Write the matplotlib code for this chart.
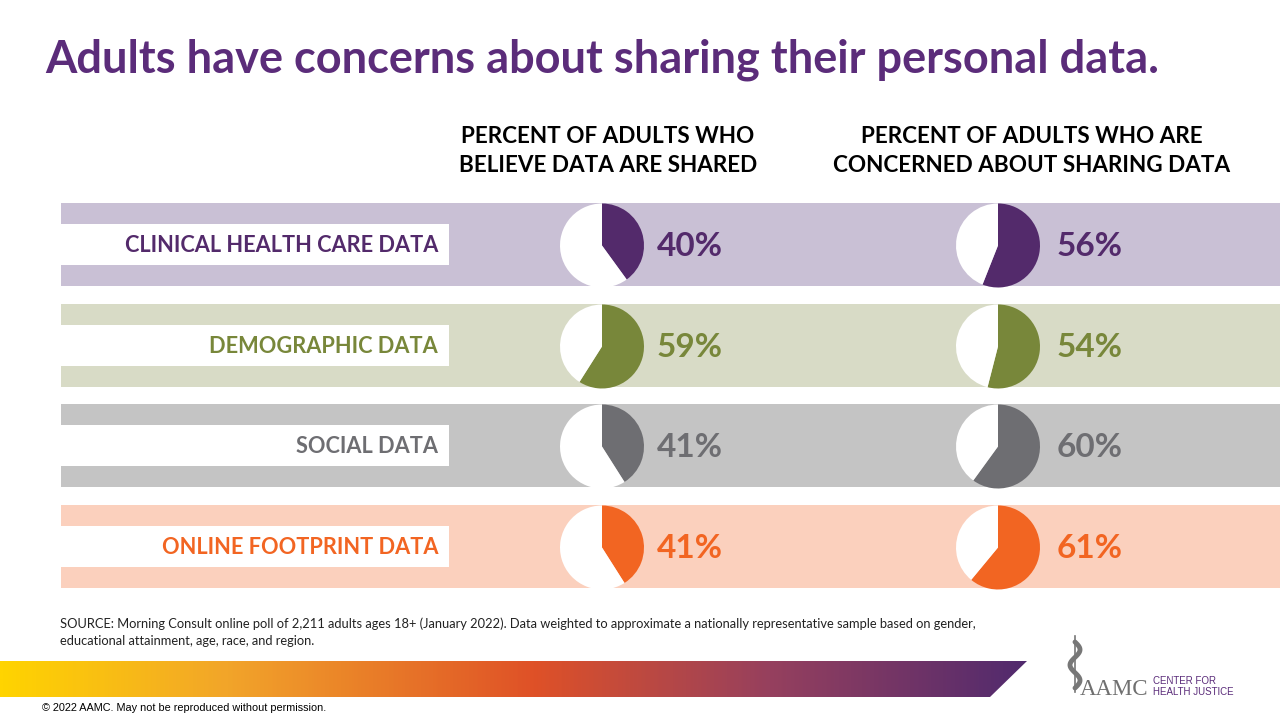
import numpy as np
import matplotlib
matplotlib.use("Agg")
import matplotlib.pyplot as plt
from matplotlib.patches import Rectangle, Polygon
from matplotlib.colors import LinearSegmentedColormap

# data
categories = ["CLINICAL HEALTH CARE DATA", "DEMOGRAPHIC DATA", "SOCIAL DATA", "ONLINE FOOTPRINT DATA"]
believe_shared = [40, 59, 41, 41]
concerned = [56, 54, 60, 61]
headers = ["PERCENT OF ADULTS WHO\nBELIEVE DATA ARE SHARED",
           "PERCENT OF ADULTS WHO ARE\nCONCERNED ABOUT SHARING DATA"]

dark_colors = ["#532A6B", "#78873A", "#6E6E72", "#F26522"]
band_colors = ["#C9C0D5", "#D8DBC6", "#C4C4C4", "#FBD0BD"]
PURPLE = "#5B2C7A"

W, H = 1280, 720
plt.rcParams["font.family"] = ["Lato", "DejaVu Sans"]

fig = plt.figure(figsize=(12.8, 7.2), dpi=100)
ax = fig.add_axes([0, 0, 1, 1])


def Y(y):
    # pixel row from top -> data y
    return H - y


# title
ax.text(45, Y(60), "Adults have concerns about sharing their personal data.",
        fontsize=32.5, fontweight="bold", color=PURPLE, va="center", ha="left")

# column headers
for cx, txt in zip([608, 1032], headers):
    ax.text(cx, Y(151), txt, fontsize=16.2, fontweight="bold", color="black",
            ha="center", va="center", linespacing=1.45)

row_tops = [203, 304, 404, 505]
band_h = 83
pie_x = [602, 998]
pct_x = [657, 1057]

for i, cat in enumerate(categories):
    top = row_tops[i]
    ax.add_patch(Rectangle((61, Y(top + band_h)), W - 61, band_h,
                           color=band_colors[i], lw=0, zorder=1))
    ax.add_patch(Rectangle((61, Y(top + 62)), 449 - 61, 41,
                           color="white", lw=0, zorder=2))
    cy = top + band_h / 2
    ax.text(438, Y(cy + 1), cat, fontsize=15.7, fontweight="bold", color=dark_colors[i],
            ha="right", va="center", zorder=3)
    for j, vals in enumerate([believe_shared, concerned]):
        v = vals[i]
        wedges, _ = ax.pie([v, 100 - v], colors=[dark_colors[i], "white"],
                           startangle=90, counterclock=False,
                           center=(pie_x[j], Y(cy + 1)), radius=42, frame=True,
                           wedgeprops=dict(linewidth=0))
        for w in wedges:
            w.set_zorder(3)
        ax.text(pct_x[j], Y(cy + 2), f"{v}%", fontsize=24, fontweight="bold",
                color=dark_colors[i], ha="left", va="center", zorder=3)

# source note
ax.text(60, Y(624), "SOURCE: Morning Consult online poll of 2,211 adults ages 18+ (January 2022). "
        "Data weighted to approximate a nationally representative sample based on gender,",
        fontsize=9.3, color="#222222", ha="left", va="center")
ax.text(60, Y(641), "educational attainment, age, race, and region.",
        fontsize=9.3, color="#222222", ha="left", va="center")

# gradient band
grad = LinearSegmentedColormap.from_list("band", [
    (0.0, "#FFD400"), (0.22, "#F2A52A"), (0.52, "#DF5127"),
    (0.75, "#96405E"), (1.0, "#512A6E")])
img = ax.imshow(np.linspace(0, 1, 512).reshape(1, -1), cmap=grad, aspect="auto",
                extent=(0, 1027, Y(697), Y(661)), zorder=2)
clip = Polygon([(0, Y(661)), (1027, Y(661)), (990, Y(697)), (0, Y(697))],
               closed=True, transform=ax.transData, facecolor="none", edgecolor="none")
ax.add_patch(clip)
img.set_clip_path(clip)

# copyright
ax.text(42, Y(708), "\u00a9 2022 AAMC. May not be reproduced without permission.",
        fontsize=7.8, family=["Liberation Sans", "DejaVu Sans"], color="black",
        ha="left", va="center")

# logo
t = np.linspace(0, 1, 100)
ax.plot(1075 + 5 * np.sin(t * 3 * np.pi), Y(642 + 46 * t), color="#777777", lw=3.5,
        solid_capstyle="round", zorder=3)
ax.plot([1075, 1075], [Y(636), Y(692)], color="#777777", lw=1.2, zorder=3)
ax.text(1080, Y(695), "AAMC", fontsize=16.5, family=["Liberation Serif", "DejaVu Serif"],
        color="#707070", ha="left", va="baseline")
ax.text(1153, Y(681), "CENTER FOR", fontsize=7, family=["Liberation Sans", "DejaVu Sans"],
        color="#5B2C7A", ha="left", va="center")
ax.text(1153, Y(692), "HEALTH JUSTICE", fontsize=7, family=["Liberation Sans", "DejaVu Sans"],
        color="#5B2C7A", ha="left", va="center")

ax.set_xlim(0, W)
ax.set_ylim(0, H)
ax.set_aspect("auto")
ax.axis("off")

fig.savefig("out.png", dpi=100, facecolor="white")
